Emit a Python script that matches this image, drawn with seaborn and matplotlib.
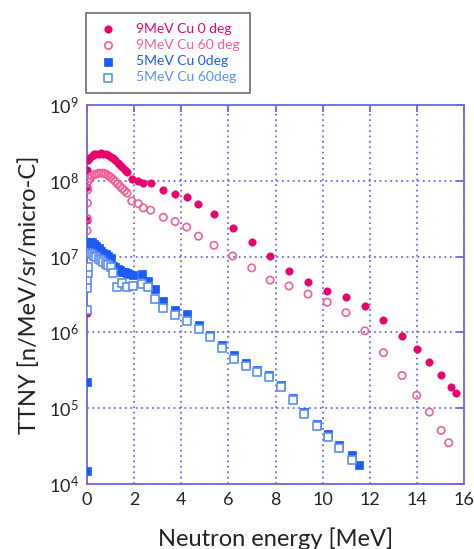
import numpy as np
import pandas as pd
import matplotlib
matplotlib.use("Agg")
import matplotlib.pyplot as plt
import seaborn as sns

# 9 MeV, Cu target, 0 deg (filled circles)
e9_0 = [0.0, 0.0, 0.0, 0.01, 0.02, 0.04,
        0.1, 0.2, 0.3, 0.4, 0.5, 0.6, 0.7, 0.8, 0.9, 1.0, 1.1, 1.2, 1.3, 1.4, 1.5, 1.6, 1.7,
        1.92, 2.18, 2.39, 2.70, 3.24, 3.74, 4.23, 4.73, 5.39, 6.18, 6.99, 7.77, 8.57, 9.38,
        10.19, 10.99, 11.79, 12.58, 13.37, 13.99, 14.53, 15.03, 15.45, 15.65]
y9_0 = [1.8e6, 4.5e6, 3.0e7, 8.3e7, 1.4e8, 1.9e8,
        2.0e8, 2.14e8, 2.24e8, 2.29e8, 2.29e8, 2.34e8, 2.29e8, 2.24e8, 2.19e8, 2.09e8, 2.0e8,
        1.86e8, 1.74e8, 1.62e8, 1.51e8, 1.41e8, 1.32e8,
        1.07e8, 1.0e8, 9.3e7, 9.3e7, 7.6e7, 6.6e7, 6.2e7, 5.0e7, 3.7e7, 2.4e7, 1.58e7, 1.02e7,
        6.5e6, 4.6e6, 3.5e6, 2.9e6, 2.2e6, 1.48e6, 9.1e5, 6.0e5, 4.1e5, 2.75e5, 1.9e5, 1.6e5]

# 9 MeV, Cu target, 60 deg (open circles)
e9_60 = [0.0, 0.01, 0.02, 0.03, 0.04,
         0.1, 0.2, 0.3, 0.4, 0.5, 0.6, 0.7, 0.8, 0.9, 1.0, 1.1, 1.2, 1.3, 1.4, 1.5, 1.6, 1.7,
         1.90, 2.18, 2.39, 2.70, 3.24, 3.74, 4.23, 4.73, 5.39, 6.18, 6.99, 7.77, 8.57, 9.38,
         10.19, 10.99, 11.79, 12.58, 13.37, 13.99, 14.53, 15.03, 15.35]
y9_60 = [2.2e7, 3.2e7, 5.1e7, 7.6e7, 9.8e7,
         1.07e8, 1.15e8, 1.2e8, 1.23e8, 1.26e8, 1.26e8, 1.26e8, 1.23e8, 1.17e8, 1.12e8, 1.05e8,
         9.8e7, 9.1e7, 8.5e7, 7.9e7, 7.4e7, 6.9e7,
         5.4e7, 5.0e7, 4.4e7, 4.1e7, 3.3e7, 2.9e7, 2.45e7, 1.86e7, 1.41e7, 1.02e7, 7.1e6, 4.9e6,
         4.1e6, 3.2e6, 2.5e6, 1.82e6, 1.05e6, 5.4e5, 2.7e5, 1.48e5, 8.9e4, 5.1e4, 3.5e4]

# 5 MeV, Cu target, 0 deg (filled squares)
e5_0 = [0.0, 0.01, 0.03,
        0.1, 0.2, 0.3, 0.4, 0.5, 0.6, 0.7, 0.8, 0.9, 1.0, 1.1, 1.2, 1.3, 1.4, 1.5, 1.6, 1.7, 1.8,
        1.97, 2.32, 2.60, 2.89, 3.24, 3.73, 4.23, 4.75, 5.23, 5.74, 6.25, 6.75, 7.23, 7.74,
        8.22, 8.73, 9.22, 9.75, 10.24, 10.71, 11.23, 11.56]
y5_0 = [1.5e4, 2.2e5, 1.4e7,
        1.58e7, 1.55e7, 1.48e7, 1.38e7, 1.29e7, 1.2e7, 1.12e7, 1.07e7, 1.02e7, 9.5e6, 7.6e6,
        7.2e6, 6.9e6, 6.6e6, 6.3e6, 6.2e6, 6.0e6, 5.9e6,
        5.8e6, 5.9e6, 4.7e6, 3.7e6, 2.6e6, 2.0e6, 1.74e6, 1.26e6, 9.3e5, 6.9e5, 5.1e5, 3.9e5,
        3.2e5, 2.75e5, 2.0e5, 1.36e5, 8.8e4, 6.2e4, 4.5e4, 3.3e4, 2.4e4, 1.8e4]

# 5 MeV, Cu target, 60 deg (open squares)
e5_60 = [0.0, 0.01, 0.02, 0.03, 0.04,
         0.1, 0.2, 0.3, 0.4, 0.5, 0.6, 0.7, 0.8, 0.9, 1.0, 1.1,
         1.26, 1.47, 1.68, 1.97, 2.32, 2.60, 2.89, 3.24, 3.73, 4.23, 4.75, 5.23, 5.74, 6.25,
         6.75, 7.23, 7.74, 8.22, 8.73, 9.22, 9.75, 10.24, 10.71, 11.23]
y5_60 = [2.0e6, 3.8e6, 4.9e6, 6.0e6, 7.4e6,
         1.1e7, 1.07e7, 1.02e7, 9.8e6, 9.3e6, 8.9e6, 8.5e6, 8.1e6, 7.8e6, 7.4e6, 6.0e6,
         4.0e6, 4.5e6, 4.0e6, 4.1e6, 4.3e6, 4.0e6, 2.75e6, 2.1e6, 1.7e6, 1.41e6, 1.1e6, 8.7e5,
         6.3e5, 4.5e5, 3.6e5, 3.0e5, 2.6e5, 1.9e5, 1.29e5, 8.3e4, 5.9e4, 4.2e4, 3.0e4, 2.1e4]

labels = ["9MeV Cu 0 deg", "9MeV Cu 60 deg", "5MeV Cu 0deg", "5MeV Cu 60deg"]
pink = "#e8006e"
pink_open = "#f0609a"
blue = "#1a5cf5"
blue_open = "#5b8ff0"
axcol = "#6b6be0"

sns.set_style("white")
plt.rcParams["font.family"] = ["Lato", "DejaVu Sans"]

fig = plt.figure(figsize=(4.74, 5.49), dpi=100)
ax = fig.add_axes([0.1835, 0.1184, 0.7955, 0.6903])

# open markers go on top of the filled ones, like in the original figure
sns.scatterplot(x=e9_0, y=y9_0, ax=ax, marker="o", s=28, color=pink, edgecolor=pink,
                linewidth=0.5, label=labels[0], zorder=3)
sns.scatterplot(x=e9_60, y=y9_60, ax=ax, marker="o", s=28, facecolor="none",
                edgecolor=pink_open, linewidth=1.2, label=labels[1], zorder=4)
sns.scatterplot(x=e5_0, y=y5_0, ax=ax, marker="s", s=32, color=blue, edgecolor=blue,
                linewidth=0.5, label=labels[2], zorder=5)
sns.scatterplot(x=e5_60, y=y5_60, ax=ax, marker="s", s=32, facecolor="white",
                edgecolor=blue_open, linewidth=1.2, label=labels[3], zorder=6)

ax.set_yscale("log")
ax.set_xlim(0, 16)
ax.set_ylim(1e4, 1e9)
ax.set_xticks(range(0, 17, 2))
ax.set_yticks([1e4, 1e5, 1e6, 1e7, 1e8, 1e9])
ax.yaxis.set_minor_locator(matplotlib.ticker.NullLocator())
ax.grid(True, color=axcol, linestyle=(0, (1, 2)), linewidth=1.3)
for sp in ax.spines.values():
    sp.set_color(axcol)
    sp.set_linewidth(1.3)
ax.tick_params(direction="in", length=5, width=1.3, color=axcol, top=True, right=True,
               labelsize=13, labelcolor="#222222", pad=6)

ax.set_xlabel("Neutron energy [MeV]", fontsize=17, color="#222222", labelpad=14)
ax.set_ylabel("TTNY [n/MeV/sr/micro-C]", fontsize=17, color="#222222", labelpad=6)

leg = ax.legend(loc="upper left", bbox_to_anchor=(0.182, 0.976), bbox_transform=fig.transFigure,
                fontsize=10, frameon=True, fancybox=False, edgecolor="#444444",
                handlelength=1.8, handletextpad=1.1, borderpad=0.7, labelspacing=0.3,
                borderaxespad=0)
leg.get_frame().set_linewidth(1.2)
for txt, c in zip(leg.get_texts(), [pink, pink_open, blue, blue_open]):
    txt.set_color(c)

fig.savefig("out.png", dpi=100)
